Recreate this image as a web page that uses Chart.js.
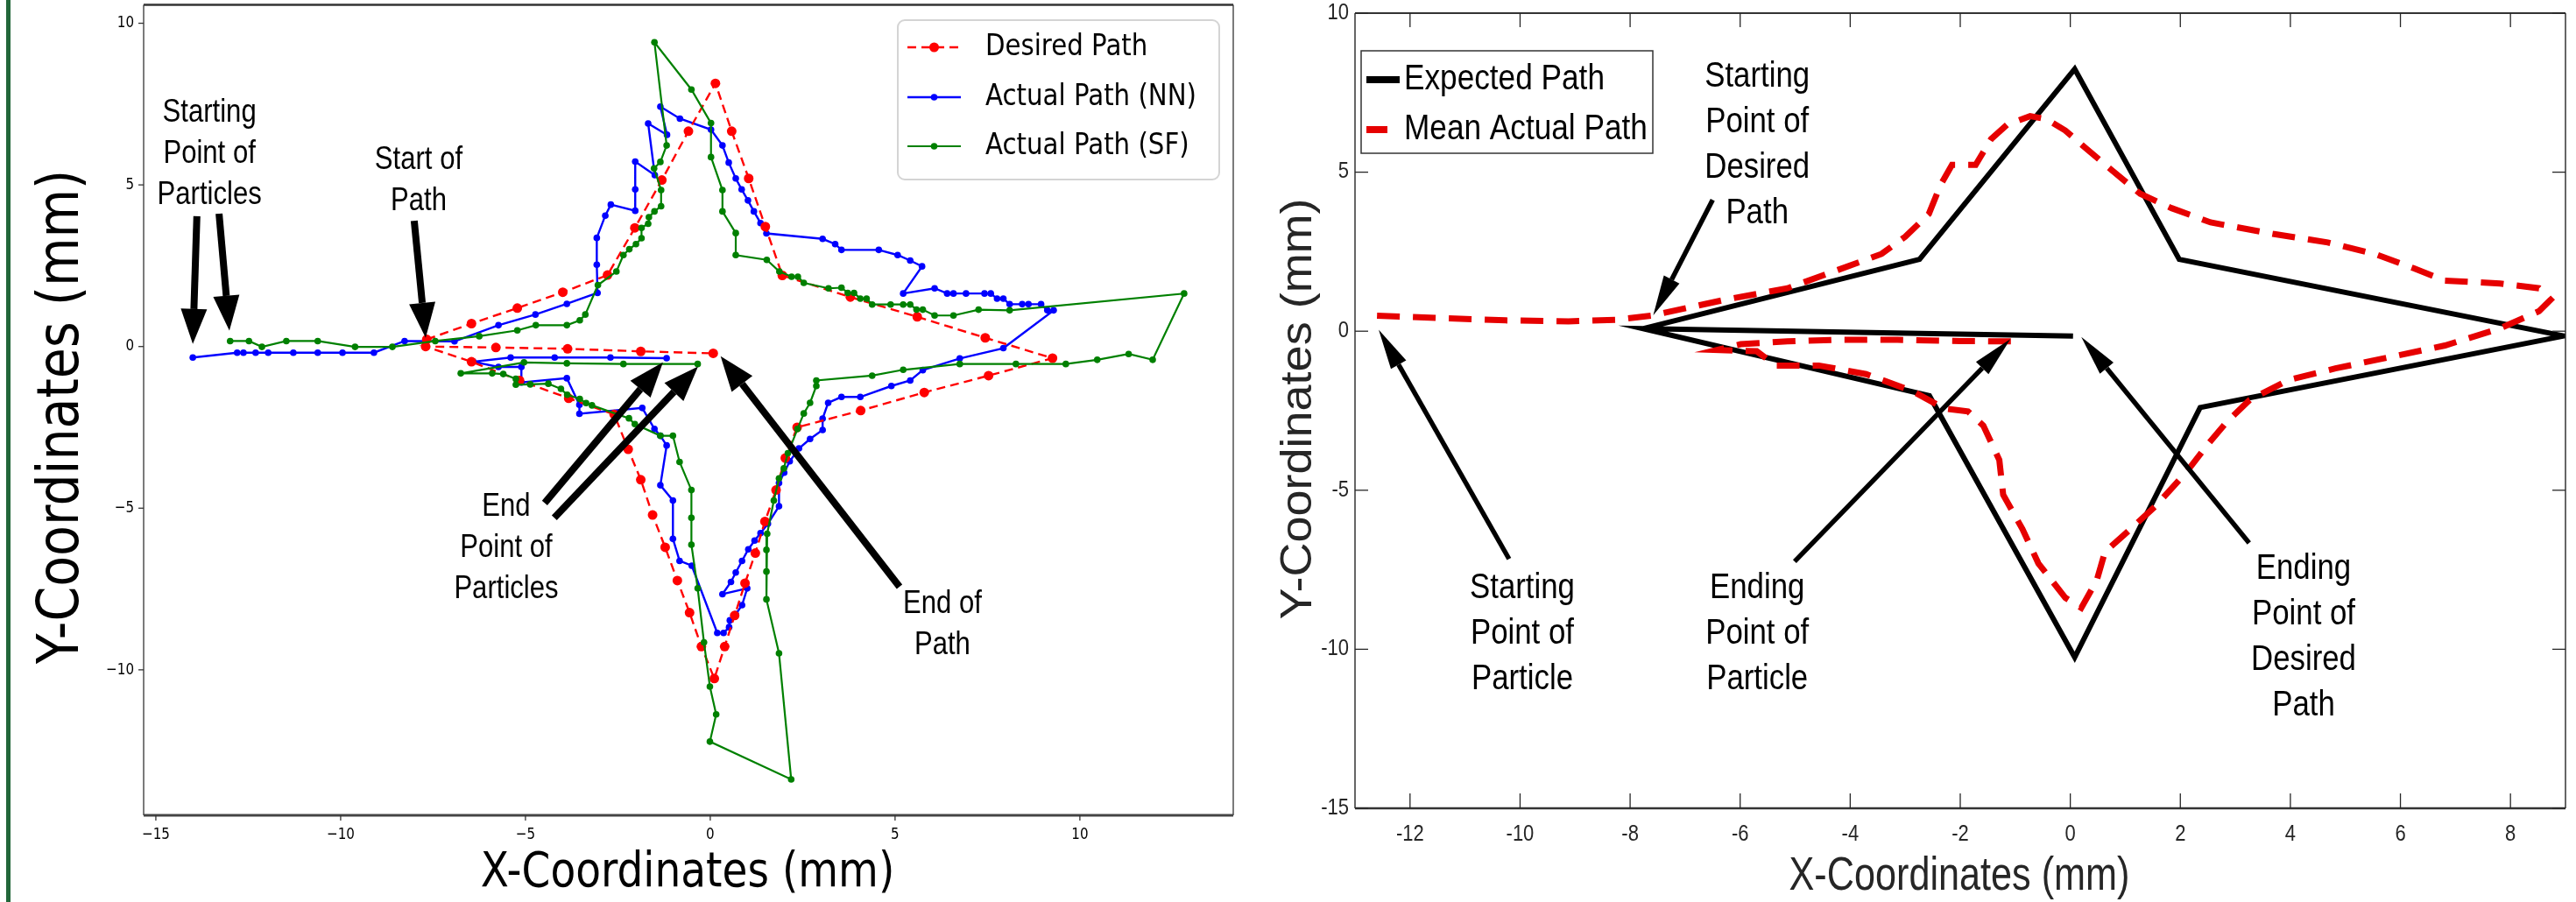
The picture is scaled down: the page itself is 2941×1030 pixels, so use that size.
<!DOCTYPE html>
<html>
<head>
<meta charset="utf-8">
<script src="https://cdn.jsdelivr.net/npm/chart.js@4.4.1/dist/chart.umd.min.js"></script>
<style>
  html, body { margin: 0; padding: 0; background: #fff; overflow: hidden; }
  #wrap { position: relative; width: 2941px; height: 1030px; }
  canvas { position: absolute; top: 0; }
  #left { left: 0; width: 1440px; height: 1030px; }
  #right { left: 1440px; width: 1501px; height: 1030px; }
</style>
</head>
<body>
<div id="wrap">
  <canvas id="left" width="1440" height="1030"></canvas>
  <canvas id="right" width="1501" height="1030"></canvas>
</div>
<script>
// ---- left panel: desired path vs. NN / SF particle paths ----
const desiredX = [-7.67,-6.46,-5.22,-3.99,-2.78,-2.04,-1.31,-0.59,0.14,0.58,1.04,1.49,1.95,3.79,5.60,7.44,9.26,7.53,5.79,4.07,2.35,2.03,1.78,1.48,1.22,0.94,0.66,0.39,0.11,-0.24,-0.56,-0.89,-1.22,-1.56,-1.88,-2.22,-2.6,-3.83,-5.16,-6.46,-7.70,-5.80,-3.86,-1.88,0.08];
const desiredY = [0.22,0.71,1.19,1.68,2.21,3.67,5.15,6.66,8.14,6.66,5.20,3.71,2.20,1.53,0.92,0.27,-0.36,-0.90,-1.42,-1.98,-2.50,-3.45,-4.44,-5.41,-6.39,-7.32,-8.32,-9.28,-10.27,-9.28,-8.23,-7.24,-6.21,-5.21,-4.12,-3.18,-2.1,-1.60,-1.05,-0.47,0.00,-0.03,-0.07,-0.15,-0.21];

const nnX = [-14.0,-12.8,-12.63,-12.3,-11.96,-11.28,-10.62,-9.95,-9.10,-8.27,-6.92,-5.73,-4.73,-3.88,-3.05,-3.07,-3.07,-2.84,-2.69,-2.03,-2.03,-2.03,-1.5,-1.68,-1.17,-1.35,-0.82,0.02,0.33,0.5,0.69,0.85,1.02,1.18,1.36,1.52,3.04,3.38,3.55,4.56,5.07,5.41,5.73,5.22,6.07,6.41,6.58,6.92,7.42,7.59,7.76,7.93,8.1,8.44,8.61,8.95,9.12,9.29,7.93,6.75,5.75,5.41,4.9,4.06,3.55,3.19,3.04,3.04,2.7,2.4,2.15,2.0,1.86,1.86,1.56,1.36,1.2,1.03,0.86,0.69,0.56,0.33,1.0,0.86,0.69,0.53,0.51,0.36,0.19,-0.5,-0.83,-1.01,-1.01,-1.35,-1.18,-1.35,-1.51,-1.84,-3.54,-3.54,-3.88,-5.11,-5.11,-5.73,-6.41,-5.4,-4.21,-2.7,-1.18];
const nnY = [-0.34,-0.19,-0.19,-0.19,-0.19,-0.19,-0.19,-0.19,-0.19,0.17,0.16,0.66,0.99,1.32,1.66,2.53,3.36,4.05,4.39,4.2,4.86,5.72,5.3,6.9,6.55,7.42,7.05,6.71,6.22,5.69,5.2,4.86,4.52,4.18,3.82,3.5,3.33,3.17,2.99,2.99,2.83,2.66,2.48,1.64,1.8,1.64,1.64,1.64,1.64,1.64,1.48,1.48,1.31,1.31,1.31,1.31,1.12,1.12,-0.05,-0.37,-0.73,-1.05,-1.22,-1.56,-1.56,-1.74,-2.23,-2.58,-2.86,-3.15,-3.55,-3.9,-4.22,-4.94,-5.48,-5.77,-6.0,-6.27,-6.63,-6.99,-7.28,-7.66,-7.48,-8.0,-8.28,-8.47,-8.68,-8.86,-8.86,-6.78,-6.63,-5.95,-4.76,-4.29,-3.06,-2.76,-2.55,-1.9,-2.08,-1.8,-0.98,-1.11,-0.63,-0.63,-0.47,-0.34,-0.34,-0.34,-0.36];

const sfX = [-12.99,-12.48,-12.13,-11.47,-10.62,-9.61,-8.6,-7.44,-6.25,-5.22,-4.72,-3.88,-3.53,-3.38,-3.04,-2.54,-2.35,-2.19,-2.01,-1.86,-1.86,-1.68,-1.66,-1.51,-1.33,-1.33,-1.52,-1.35,-1.18,-1.51,-0.51,0.02,0.02,0.33,0.33,0.69,0.69,1.53,1.87,2.2,2.37,2.53,3.2,3.55,3.72,3.89,4.06,4.23,4.38,4.88,5.22,5.41,5.58,5.75,6.07,6.58,7.26,8.1,12.82,11.97,11.32,10.47,9.62,8.27,6.75,5.22,4.38,2.87,2.87,2.7,2.53,2.36,2.1,1.99,1.86,1.72,1.54,1.52,1.52,1.52,1.86,2.19,-0.01,0.16,-0.01,-0.17,-0.34,-0.51,-0.51,-0.51,-0.83,-1.01,-1.35,-2.04,-2.2,-3.2,-3.36,-3.53,-3.87,-4.04,-4.38,-4.87,-5.26,-5.26,-5.6,-5.9,-6.75,-5.04,-3.88,-2.35,-0.34];
const sfY = [0.17,0.17,-0.01,0.17,0.17,-0.01,-0.01,0.17,0.32,0.5,0.66,0.66,0.81,0.99,1.9,2.32,2.83,3.01,3.17,3.35,3.67,3.8,4.0,4.18,4.34,4.84,5.51,5.71,6.22,9.41,7.95,6.91,5.86,4.84,4.18,3.51,2.83,2.68,2.32,2.16,2.16,1.97,1.8,1.82,1.66,1.66,1.48,1.48,1.3,1.3,1.3,1.3,1.14,1.14,0.96,0.96,1.14,1.12,1.64,-0.41,-0.23,-0.41,-0.54,-0.54,-0.54,-0.72,-0.9,-1.05,-1.22,-1.74,-2.07,-2.55,-3.3,-3.77,-4.08,-4.76,-5.79,-6.29,-6.96,-7.82,-9.49,-13.39,-12.22,-11.38,-10.52,-9.15,-7.48,-6.13,-5.3,-4.44,-3.57,-2.76,-2.76,-2.4,-2.22,-1.82,-1.75,-1.62,-1.49,-1.31,-1.15,-1.17,-1.18,-1.0,-0.85,-0.83,-0.83,-0.49,-0.52,-0.54,-0.54];

const leftXTicks = [-15, -10, -5, 0, 5, 10];
const leftXTickLabels = ['\u221215', '\u221210', '\u22125', '0', '5', '10'];
const leftYTicks = [-10, -5, 0, 5, 10];
const leftYTickLabels = ['\u221210', '\u22125', '0', '5', '10'];

// annotations: text anchored in data units (first line), arrows tail -> tip
const leftNotes = [
  { x: -13.55, y: 7.24, lines: ['Starting', 'Point of', 'Particles'] },
  { x: -7.89, y: 5.76, lines: ['Start of', 'Path'] },
  { x: -5.52, y: -4.97, lines: ['End', 'Point of', 'Particles'] },
  { x: 6.28, y: -7.97, lines: ['End of', 'Path'] }
];
const leftArrows = [
  [-13.89, 4.03, -14.0, 0.08],
  [-13.29, 4.11, -13.01, 0.49],
  [-8.01, 3.89, -7.70, 0.27],
  [-4.48, -4.84, -1.28, -0.49],
  [-4.22, -5.30, -0.33, -0.62],
  [5.12, -7.43, 0.28, -0.30]
];

// ---- right panel: expected vs. mean actual path ----
const expX = [-7.77, -2.74, 0.08, 1.98, 8.97, 2.36, 0.08, -2.56, -7.77, 0.05];
const expY = [0.08, 2.26, 8.24, 2.26, -0.15, -2.4, -10.25, -2.03, 0.08, -0.15];

const meanX = [-12.6,-11.39,-10.26,-9.12,-8.26,-7.62,-6.27,-5.14,-4.28,-3.43,-3.0,-2.57,-2.36,-2.15,-1.72,-1.44,-1.15,-0.73,-0.44,-0.09,0.27,0.70,1.27,1.84,2.55,3.68,4.68,5.53,6.24,6.81,7.81,8.52,8.73,8.52,7.81,6.81,5.82,4.82,3.97,3.26,2.83,2.48,2.12,1.55,0.98,0.63,0.48,0.2,-0.09,-0.58,-0.87,-1.22,-1.29,-1.58,-1.86,-2.29,-2.86,-3.71,-4.57,-5.35,-5.7,-6.42,-5.99,-5.14,-4.28,-3.14,-2.0,-1.08];
const meanY = [0.49,0.41,0.34,0.31,0.36,0.49,0.99,1.35,1.89,2.43,2.97,3.69,4.59,5.23,5.23,6.04,6.49,6.76,6.67,6.31,5.77,5.14,4.32,3.87,3.42,3.06,2.79,2.43,1.98,1.59,1.5,1.35,0.99,0.63,0.09,-0.45,-0.81,-1.17,-1.53,-2.16,-2.88,-3.6,-4.41,-5.5,-6.4,-6.94,-7.84,-8.7,-8.38,-7.3,-6.22,-5.14,-4.05,-2.97,-2.52,-2.43,-1.89,-1.35,-1.08,-1.08,-0.63,-0.59,-0.41,-0.32,-0.27,-0.27,-0.31,-0.32];

const rightXTicks = [-12, -10, -8, -6, -4, -2, 0, 2, 4, 6, 8];
const rightXTickLabels = ['-12', '-10', '-8', '-6', '-4', '-2', '0', '2', '4', '6', '8'];
const rightYTicks = [-15, -10, -5, 0, 5, 10];
const rightYTickLabels = ['-15', '-10', '-5', '0', '5', '10'];

const rightNotes = [
  { x: -5.69, y: 7.98, lines: ['Starting', 'Point of', 'Desired', 'Path'] },
  { x: -9.96, y: -8.1, lines: ['Starting', 'Point of', 'Particle'] },
  { x: -5.69, y: -8.1, lines: ['Ending', 'Point of', 'Particle'] },
  { x: 4.24, y: -7.49, lines: ['Ending', 'Point of', 'Desired', 'Path'] }
];
const rightArrows = [
  [-6.50, 4.13, -7.58, 0.5],
  [-10.2, -7.16, -12.57, 0.05],
  [-5.01, -7.24, -1.09, -0.25],
  [3.25, -6.66, 0.2, -0.18]
];

function pts(xs, ys) {
  return xs.map((x, i) => ({ x: x, y: ys[i] }));
}

// text squeezed horizontally, like the resized figure
function squeezed(ctx, str, x, y, o) {
  ctx.save();
  ctx.translate(x, y);
  if (o.rot) ctx.rotate(o.rot);
  ctx.scale(o.sx || 1, o.sy || 1);
  ctx.font = o.font;
  ctx.fillStyle = o.color || '#000';
  ctx.textAlign = o.align || 'center';
  ctx.textBaseline = 'middle';
  ctx.fillText(str, 0, 0);
  ctx.restore();
}

function arrow(ctx, x1, y1, x2, y2, shaft, headW, headL) {
  const a = Math.atan2(y2 - y1, x2 - x1);
  const bx = x2 - headL * Math.cos(a), by = y2 - headL * Math.sin(a);
  ctx.save();
  ctx.strokeStyle = '#000';
  ctx.fillStyle = '#000';
  ctx.lineWidth = shaft;
  ctx.lineCap = 'butt';
  ctx.beginPath();
  ctx.moveTo(x1, y1);
  ctx.lineTo(bx, by);
  ctx.stroke();
  const nx = -Math.sin(a) * headW / 2, ny = Math.cos(a) * headW / 2;
  ctx.beginPath();
  ctx.moveTo(x2, y2);
  ctx.lineTo(bx + nx, by + ny);
  ctx.lineTo(bx - nx, by - ny);
  ctx.closePath();
  ctx.fill();
  ctx.restore();
}

function line(ctx, x1, y1, x2, y2, w, col, dash) {
  ctx.save();
  ctx.strokeStyle = col;
  ctx.lineWidth = w;
  ctx.setLineDash(dash || []);
  ctx.beginPath();
  ctx.moveTo(x1, y1);
  ctx.lineTo(x2, y2);
  ctx.stroke();
  ctx.restore();
}

const leftDecor = {
  id: 'leftDecor',
  afterDraw(chart) {
    const { ctx, chartArea: a, scales: { x, y } } = chart;
    // green page bar
    ctx.fillStyle = '#22673a';
    ctx.fillRect(7, 0, 5, 1030);
    // spines
    line(ctx, a.left, a.top, a.left, a.bottom, 1.3, '#333');
    line(ctx, a.right, a.top, a.right, a.bottom, 1.3, '#333');
    line(ctx, a.left, a.top, a.right, a.top, 2.5, '#333');
    line(ctx, a.left, a.bottom, a.right, a.bottom, 3, '#444');
    // ticks + labels
    leftXTicks.forEach((v, i) => {
      const px = x.getPixelForValue(v);
      line(ctx, px, a.bottom, px, a.bottom + 6, 1.3, '#333');
      squeezed(ctx, leftXTickLabels[i], px, 953, { font: '18px "DejaVu Sans"', sx: 0.84 });
    });
    leftYTicks.forEach((v, i) => {
      const py = y.getPixelForValue(v);
      line(ctx, a.left - 6, py, a.left, py, 1.3, '#333');
      squeezed(ctx, leftYTickLabels[i], 153, py, { font: '18px "DejaVu Sans"', sx: 0.84, align: 'right' });
    });
    // axis titles
    squeezed(ctx, 'X-Coordinates (mm)', 785, 997, { font: '56px "DejaVu Sans"', sx: 0.84 });
    squeezed(ctx, 'Y-Coordinates (mm)', 72, 476, { font: '57px "DejaVu Sans"', rot: -Math.PI / 2, sy: 1.15 });
    // legend
    ctx.save();
    ctx.fillStyle = 'rgba(255,255,255,0.85)';
    ctx.strokeStyle = '#d4d4d4';
    ctx.lineWidth = 2;
    ctx.beginPath();
    ctx.roundRect(1025, 23, 367, 182, 8);
    ctx.fill();
    ctx.stroke();
    ctx.restore();
    const rows = [54, 111, 167];
    chart.data.datasets.slice().sort((p, q) => p.legendIndex - q.legendIndex).forEach((ds, i) => {
      const ry = rows[i];
      line(ctx, 1036, ry, 1097, ry, ds.borderWidth, ds.borderColor, ds.borderDash);
      ctx.beginPath();
      ctx.fillStyle = ds.pointBackgroundColor;
      ctx.arc(1066.5, ry, ds.pointRadius, 0, Math.PI * 2);
      ctx.fill();
      squeezed(ctx, ds.label, 1125, ry, { font: '34px "DejaVu Sans"', sx: 0.86, align: 'left' });
    });
    // annotations
    leftNotes.forEach(n => {
      const px = x.getPixelForValue(n.x), py = y.getPixelForValue(n.y);
      n.lines.forEach((t, k) => squeezed(ctx, t, px, py + k * 47, { font: '37px "Liberation Sans"', sx: 0.84 }));
    });
    leftArrows.forEach(r => {
      arrow(ctx, x.getPixelForValue(r[0]), y.getPixelForValue(r[1]),
        x.getPixelForValue(r[2]), y.getPixelForValue(r[3]), 8, 30, 40);
    });
  }
};

const rightDecor = {
  id: 'rightDecor',
  afterDraw(chart) {
    const { ctx, chartArea: a, scales: { x, y } } = chart;
    const ink = '#262626';
    // box
    line(ctx, a.left, a.top, a.right, a.top, 2, '#333');
    line(ctx, a.left, a.bottom, a.right, a.bottom, 2.5, '#333');
    line(ctx, a.left, a.top, a.left, a.bottom, 1.5, '#333');
    line(ctx, a.right, a.top, a.right, a.bottom, 1.5, '#333');
    // inward ticks
    rightXTicks.forEach((v, i) => {
      const px = x.getPixelForValue(v);
      line(ctx, px, a.bottom, px, a.bottom - 17, 1.3, ink);
      line(ctx, px, a.top, px, a.top + 16, 1.3, ink);
      squeezed(ctx, rightXTickLabels[i], px, 953, { font: '25px "Liberation Sans"', sx: 0.88, color: ink });
    });
    rightYTicks.forEach((v, i) => {
      const py = y.getPixelForValue(v);
      line(ctx, a.left, py, a.left + 15, py, 1.3, ink);
      line(ctx, a.right, py, a.right - 15, py, 1.3, ink);
      squeezed(ctx, rightYTickLabels[i], 100, py, { font: '25px "Liberation Sans"', sx: 0.88, color: ink, align: 'right' });
    });
    squeezed(ctx, 'X-Coordinates (mm)', 797, 1001, { font: '54px "Liberation Sans"', sx: 0.8, color: ink });
    squeezed(ctx, 'Y-Coordinates (mm)', 43, 467, { font: '54px "Liberation Sans"', rot: -Math.PI / 2, sy: 0.92, color: ink });
    // legend
    ctx.save();
    ctx.fillStyle = '#fff';
    ctx.strokeStyle = '#333';
    ctx.lineWidth = 1.5;
    ctx.fillRect(114, 58, 333, 117);
    ctx.strokeRect(114, 58, 333, 117);
    ctx.restore();
    const ds = chart.data.datasets;
    line(ctx, 120, 91, 158, 91, 8, ds[1].borderColor);
    line(ctx, 120, 148, 144, 148, 8, ds[0].borderColor);
    squeezed(ctx, ds[1].label, 163, 91, { font: '40px "Liberation Sans"', sx: 0.88, align: 'left' });
    squeezed(ctx, ds[0].label, 163, 148, { font: '40px "Liberation Sans"', sx: 0.88, align: 'left' });
    // annotations
    rightNotes.forEach(n => {
      const px = x.getPixelForValue(n.x), py = y.getPixelForValue(n.y);
      n.lines.forEach((t, k) => squeezed(ctx, t, px, py + k * 52, { font: '40px "Liberation Sans"', sx: 0.87 }));
    });
    rightArrows.forEach(r => {
      arrow(ctx, x.getPixelForValue(r[0]), y.getPixelForValue(r[1]),
        x.getPixelForValue(r[2]), y.getPixelForValue(r[3]), 5.5, 20, 46);
    });
  }
};

function baseOptions(xr, yr, pad) {
  return {
    responsive: false,
    animation: false,
    devicePixelRatio: 1,
    layout: { padding: pad },
    plugins: { legend: { display: false }, tooltip: { enabled: false } },
    elements: { line: { tension: 0 } },
    scales: {
      x: { type: 'linear', min: xr[0], max: xr[1], display: false },
      y: { type: 'linear', min: yr[0], max: yr[1], display: false }
    }
  };
}

new Chart(document.getElementById('left'), {
  type: 'scatter',
  data: {
    datasets: [
      {
        label: 'Actual Path (SF)', legendIndex: 2, order: 0,
        data: pts(sfX, sfY), showLine: true,
        borderColor: '#008000', borderWidth: 2.2,
        pointBackgroundColor: '#008000', pointBorderWidth: 0, pointRadius: 3.8
      },
      {
        label: 'Desired Path', legendIndex: 0, order: 1,
        data: pts(desiredX, desiredY), showLine: true,
        borderColor: '#ff0000', borderWidth: 2.4, borderDash: [10, 6],
        pointBackgroundColor: '#ff0000', pointBorderWidth: 0, pointRadius: 5.5
      },
      {
        label: 'Actual Path (NN)', legendIndex: 1, order: 2,
        data: pts(nnX, nnY), showLine: true,
        borderColor: '#0000ff', borderWidth: 2.4,
        pointBackgroundColor: '#0000ff', pointBorderWidth: 0, pointRadius: 3.8
      }
    ]
  },
  options: baseOptions([-15.33, 14.15], [-14.5, 10.57], { left: 164, right: 32, top: 3, bottom: 99 }),
  plugins: [leftDecor]
});

new Chart(document.getElementById('right'), {
  type: 'scatter',
  data: {
    datasets: [
      {
        label: 'Mean Actual Path', order: 0,
        data: pts(meanX, meanY), showLine: true,
        borderColor: '#e60000', borderWidth: 7, borderDash: [26, 15],
        pointRadius: 0
      },
      {
        label: 'Expected Path', order: 1,
        data: pts(expX, expY), showLine: true,
        borderColor: '#000', borderWidth: 6, borderJoinStyle: 'miter',
        pointRadius: 0
      }
    ]
  },
  options: baseOptions([-13, 9], [-15, 10], { left: 107, right: 12, top: 15, bottom: 107 }),
  plugins: [rightDecor]
});
</script>
</body>
</html>
